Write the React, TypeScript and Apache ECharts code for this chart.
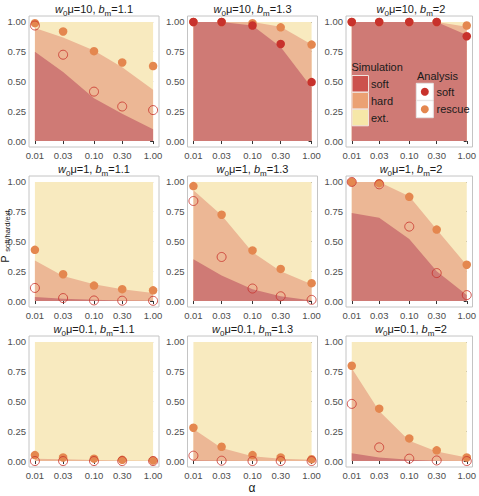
import React, { useEffect, useRef } from "react";
import * as echarts from "echarts";

// mutation-rate / selection axis values (alpha), log-spaced
const alpha = [0.01, 0.03, 0.1, 0.3, 1];
const xTickLabels = ["0.01", "0.03", "0.10", "0.30", "1.00"];
const yTicks = [0, 0.25, 0.5, 0.75, 1];

// facet parameters, row-major
const w0mu = ["10", "10", "10", "1", "1", "1", "0.1", "0.1", "0.1"];
const bm = ["1.1", "1.3", "2", "1.1", "1.3", "2", "1.1", "1.3", "2"];

// simulated fraction of soft sweeps
const simSoft = [
  [0.75, 0.58, 0.36, 0.23, 0.1],
  [1, 1, 0.97, 0.79, 0.45],
  [1, 1, 1, 1, 0.89],
  [0.034, 0.02, 0.01, 0.005, 0.002],
  [0.35, 0.215, 0.1, 0.04, 0.005],
  [0.74, 0.7, 0.52, 0.25, 0.05],
  [0, 0, 0, 0, 0],
  [0.005, 0.002, 0, 0, 0],
  [0.065, 0.03, 0.01, 0.003, 0],
];

// simulated fraction of hard sweeps
const simHard = [
  [0.2, 0.29, 0.4, 0.39, 0.33],
  [0, 0, 0.03, 0.17, 0.36],
  [0, 0, 0, 0, 0.07],
  [0.306, 0.19, 0.13, 0.095, 0.065],
  [0.58, 0.505, 0.31, 0.21, 0.135],
  [0.26, 0.3, 0.36, 0.35, 0.25],
  [0.02, 0.015, 0.008, 0.005, 0.003],
  [0.265, 0.108, 0.04, 0.02, 0.01],
  [0.715, 0.39, 0.16, 0.077, 0.03],
];

// analytical prediction: probability of rescue
const anaRescue = [
  [0.99, 0.92, 0.755, 0.66, 0.63],
  [1, 1, 0.99, 0.955, 0.81],
  [1, 1, 1, 1, 0.97],
  [0.43, 0.225, 0.13, 0.1, 0.09],
  [0.965, 0.725, 0.425, 0.27, 0.15],
  [1, 0.99, 0.875, 0.6, 0.305],
  [0.05, 0.03, 0.02, 0.01, 0.005],
  [0.28, 0.12, 0.05, 0.03, 0.015],
  [0.8, 0.44, 0.19, 0.09, 0.03],
];

// analytical prediction: probability of a soft sweep
const anaSoft = [
  [0.97, 0.725, 0.415, 0.29, 0.26],
  [1, 1, 0.97, 0.815, 0.495],
  [1, 1, 1, 1, 0.88],
  [0.11, 0.025, 0.005, 0.003, 0.002],
  [0.84, 0.37, 0.105, 0.04, 0.01],
  [1, 0.98, 0.625, 0.235, 0.05],
  [0, 0, 0, 0, 0],
  [0.045, 0.003, 0, 0, 0],
  [0.48, 0.115, 0.02, 0.005, 0],
];

// panels where the soft-sweep prediction is drawn as an open circle
const softOpen = [true, false, false, true, true, true, true, true, true];

const FONT = "'Liberation Sans', Arial, sans-serif";
const C_SOFT_AREA = "#cf7a75";
const C_HARD_AREA = "#ecb795";
const C_EXT_AREA = "#f8eabf";
const C_SOFT_PT = "#c8322c";
const C_RESCUE_PT = "#e4874f";

const colLeft = [29, 187.5, 346];
const rowTop = [16, 176, 336];
const PW = 130;
const PH = 131;

const logA = alpha.map((a) => Math.log10(a));

function buildOption() {
  const grids: any[] = [];
  const xAxes: any[] = [];
  const yAxes: any[] = [];
  const series: any[] = [];
  const graphics: any[] = [];

  for (let i = 0; i < 9; i++) {
    const r = Math.floor(i / 3);
    const c = i % 3;
    grids.push({
      left: colLeft[c],
      top: rowTop[r],
      width: PW,
      height: PH,
      show: true,
      backgroundColor: "#ffffff",
      borderColor: "#c4c4c4",
      borderWidth: 1,
    });
    xAxes.push({
      type: "value",
      gridIndex: i,
      min: -2.1,
      max: 0.1,
      axisLine: { show: false },
      splitLine: { show: false },
      axisTick: {
        show: true,
        customValues: logA,
        length: 3,
        lineStyle: { color: "#333333", width: 1 },
      },
      axisLabel: {
        customValues: logA,
        margin: 3,
        fontSize: 9.5,
        color: "#4d4d4d",
        fontFamily: FONT,
        formatter: (v: number) => {
          const k = logA.findIndex((t) => Math.abs(t - v) < 1e-6);
          return k >= 0 ? xTickLabels[k] : "";
        },
      },
    });
    yAxes.push({
      type: "value",
      gridIndex: i,
      min: -0.05,
      max: 1.05,
      axisLine: { show: false },
      splitLine: { show: false },
      axisTick: {
        show: true,
        customValues: yTicks,
        length: 3,
        lineStyle: { color: "#333333", width: 1 },
      },
      axisLabel: {
        customValues: yTicks,
        margin: 3,
        fontSize: 9.5,
        color: "#4d4d4d",
        fontFamily: FONT,
        formatter: (v: number) => v.toFixed(2),
      },
    });

    // cumulative tops of the simulated outcome bands, drawn back to front
    const soft = simSoft[i];
    const hard = simHard[i];
    const softTop = soft;
    const hardTop = soft.map((s, k) => s + hard[k]);
    const extTop = soft.map(() => 1);
    const bands: [string, number[], string][] = [
      ["ext.", extTop, C_EXT_AREA],
      ["hard", hardTop, C_HARD_AREA],
      ["soft", softTop, C_SOFT_AREA],
    ];
    bands.forEach(([name, vals, color]) => {
      series.push({
        type: "line",
        name,
        xAxisIndex: i,
        yAxisIndex: i,
        symbol: "none",
        showSymbol: false,
        silent: true,
        lineStyle: { width: 0, opacity: 0 },
        areaStyle: { color, opacity: 1, origin: 0 },
        data: vals.map((v, k) => [logA[k], v]),
        z: 1,
      });
    });

    series.push({
      type: "scatter",
      name: "rescue",
      xAxisIndex: i,
      yAxisIndex: i,
      symbolSize: 8.5,
      itemStyle: { color: C_RESCUE_PT, opacity: 1 },
      data: anaRescue[i].map((v, k) => [logA[k], v]),
      z: 3,
    });
    series.push({
      type: "scatter",
      name: "soft",
      xAxisIndex: i,
      yAxisIndex: i,
      symbol: "circle",
      symbolSize: softOpen[i] ? 9 : 8.5,
      itemStyle: softOpen[i]
        ? { color: "rgba(255,255,255,0)", borderColor: C_SOFT_PT, borderWidth: 1 }
        : { color: C_SOFT_PT, opacity: 1 },
      data: anaSoft[i].map((v, k) => [logA[k], v]),
      z: 4,
    });

    // facet strip title
    graphics.push({
      type: "text",
      x: colLeft[c] + PW / 2,
      y: rowTop[r] - 7,
      z: 10,
      style: {
        text: `{i|w}{s|0}{n|μ=${w0mu[i]}, }{i|b}{s|m}{n|=${bm[i]}}`,
        align: "center",
        verticalAlign: "middle",
        fontFamily: FONT,
        rich: {
          n: { fontSize: 11, fill: "#1a1a1a", lineHeight: 16, fontFamily: FONT },
          i: { fontSize: 11, fill: "#1a1a1a", lineHeight: 16, fontStyle: "italic", fontFamily: FONT },
          s: { fontSize: 8, fill: "#1a1a1a", lineHeight: 7, verticalAlign: "bottom", fontFamily: FONT },
        },
      },
    });
  }

  // simulation legend
  const simKeys: [string, string][] = [
    ["soft", "#cc524d"],
    ["hard", "#eba173"],
    ["ext.", "#f6e7a8"],
  ];
  graphics.push({
    type: "text",
    x: 351.5,
    y: 67,
    z: 20,
    style: { text: "Simulation", fontSize: 11, fill: "#1a1a1a", fontFamily: FONT, verticalAlign: "middle" },
  });
  simKeys.forEach(([label, color], k) => {
    const y = 75.5 + k * 16.9;
    graphics.push({
      type: "rect",
      z: 20,
      shape: { x: 352, y, width: 16.5, height: 16.5 },
      style: { fill: color, stroke: "#f0e4df", lineWidth: 1 },
    });
    graphics.push({
      type: "text",
      x: 371,
      y: y + 8.3,
      z: 20,
      style: { text: label, fontSize: 11, fill: "#1a1a1a", fontFamily: FONT, verticalAlign: "middle" },
    });
  });

  // analysis legend
  const anaKeys: [string, string][] = [
    ["soft", C_SOFT_PT],
    ["rescue", C_RESCUE_PT],
  ];
  graphics.push({
    type: "text",
    x: 417,
    y: 75.5,
    z: 20,
    style: { text: "Analysis", fontSize: 11, fill: "#1a1a1a", fontFamily: FONT, verticalAlign: "middle" },
  });
  anaKeys.forEach(([label, color], k) => {
    const y = 83.3 + k * 17.4;
    graphics.push({
      type: "rect",
      z: 20,
      shape: { x: 416.3, y, width: 17, height: 17 },
      style: { fill: "#ffffff", stroke: "#e6e6e6", lineWidth: 1 },
    });
    graphics.push({
      type: "circle",
      z: 21,
      shape: { cx: 424.8, cy: y + 8.5, r: 4 },
      style: { fill: color },
    });
    graphics.push({
      type: "text",
      x: 436.5,
      y: y + 8.5,
      z: 20,
      style: { text: label, fontSize: 11, fill: "#1a1a1a", fontFamily: FONT, verticalAlign: "middle" },
    });
  });

  // y axis title: P with subscript, reading bottom to top
  graphics.push({
    type: "text",
    x: 5,
    y: 259,
    rotation: Math.PI / 2,
    z: 20,
    style: {
      text: "P",
      fontSize: 11,
      fill: "#1a1a1a",
      fontFamily: FONT,
      align: "center",
      verticalAlign: "middle",
    },
  });
  graphics.push({
    type: "text",
    x: 7.5,
    y: 230,
    rotation: Math.PI / 2,
    z: 20,
    style: {
      text: "soft/hard/ext.",
      fontSize: 7.5,
      fill: "#1a1a1a",
      fontFamily: FONT,
      align: "center",
      verticalAlign: "middle",
    },
  });
  graphics.push({
    type: "text",
    x: 252,
    y: 488,
    z: 20,
    style: {
      text: "α",
      fontSize: 12,
      fill: "#1a1a1a",
      fontFamily: FONT,
      align: "center",
      verticalAlign: "middle",
    },
  });

  return {
    animation: false,
    backgroundColor: "#ffffff",
    textStyle: { fontFamily: FONT },
    grid: grids,
    xAxis: xAxes,
    yAxis: yAxes,
    series,
    graphic: graphics,
  };
}

export default function App() {
  const ref = useRef<HTMLDivElement>(null);
  useEffect(() => {
    if (!ref.current) return;
    const chart = echarts.init(ref.current, undefined, { renderer: "svg" });
    chart.setOption(buildOption() as any);
    return () => chart.dispose();
  }, []);
  return (
    <div
      ref={ref}
      style={{ position: "fixed", left: 0, top: 0, width: 479, height: 496 }}
    />
  );
}
